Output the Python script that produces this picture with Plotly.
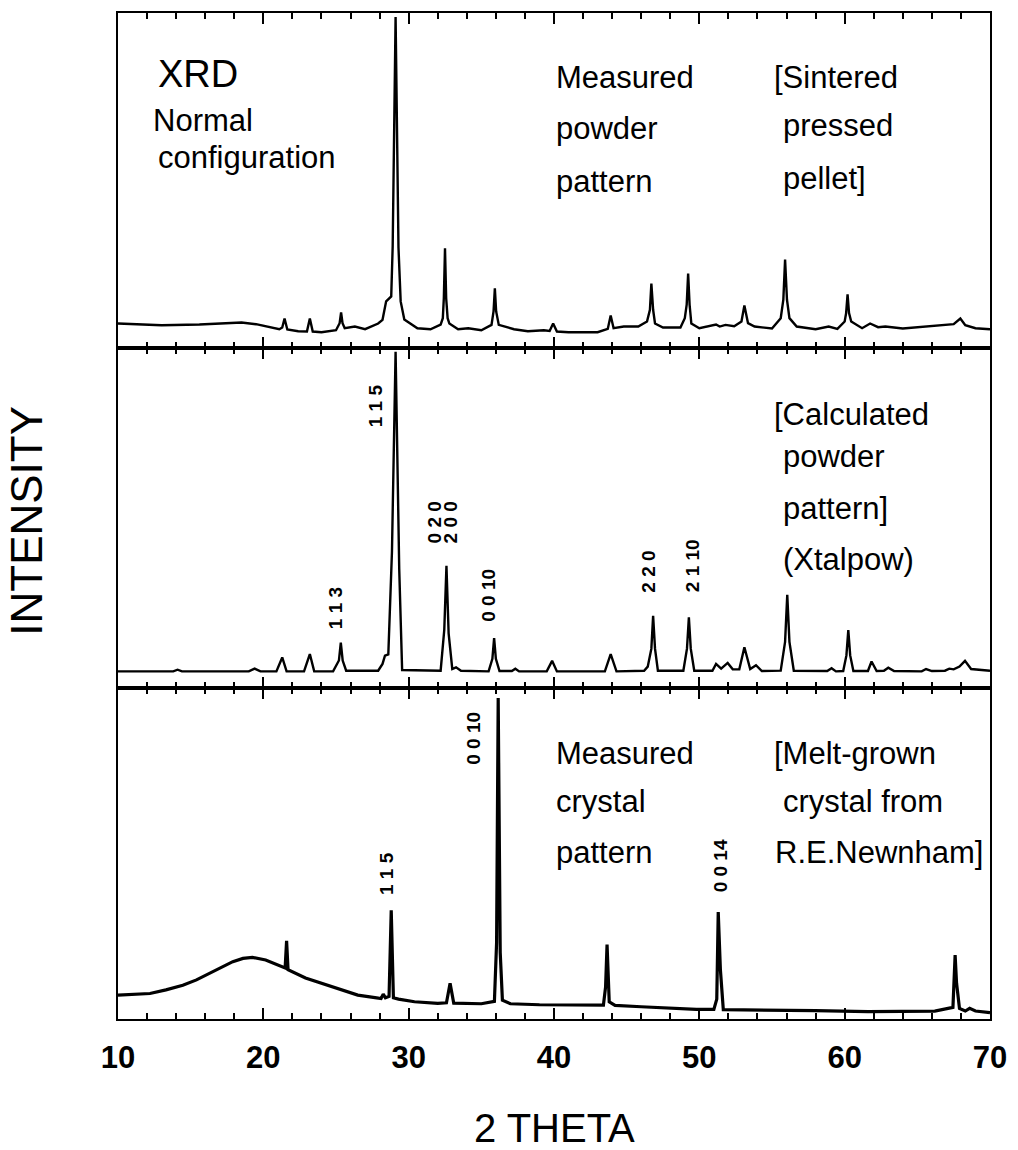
import plotly.graph_objects as go
from plotly.subplots import make_subplots

# ---------------- data ----------------
# x = 2 theta (deg), y = relative intensity (0 = panel bottom, 100 = panel top)
top_x = [10.0, 11.5, 13.0, 15.6, 17.0, 18.5, 19.5, 20.2, 21.1, 21.3, 21.46, 21.65, 22.4, 23.0, 23.2, 23.4,
         24.0, 25.0, 25.25, 25.35, 25.45, 25.6, 26.3, 27.0, 27.9, 28.2, 28.45, 28.8, 28.9, 29.1, 29.3, 29.45,
         29.7, 30.6, 31.5, 32.2, 32.35, 32.42, 32.5, 32.58, 32.68, 32.8, 33.4, 34.1, 35.0, 35.7, 35.84, 35.93,
         36.02, 36.2, 37.25, 38.2, 39.3, 39.7, 39.94, 40.2, 41.0, 43.0, 43.7, 43.9, 44.1, 44.8, 45.8, 46.4,
         46.6, 46.7, 46.82, 46.95, 47.5, 48.7, 49.0, 49.13, 49.23, 49.33, 49.45, 50.0, 51.15, 51.4, 51.8, 52.4,
         52.9, 53.1, 53.35, 53.8, 55.0, 55.6, 55.78, 55.9, 56.03, 56.2, 56.7, 58.0, 58.9, 59.5, 60.0, 60.1,
         60.2, 60.3, 60.45, 61.2, 61.75, 62.3, 62.8, 64.0, 65.4, 66.5, 67.5, 67.96, 68.3, 69.0, 70.0]
top_y = [7.4, 7.2, 6.9, 7.1, 7.4, 7.7, 7.2, 6.5, 5.7, 6.2, 8.9, 5.6, 5.1, 5.0, 8.9, 5.0,
         4.8, 5.4, 7.5, 10.7, 7.5, 6.0, 6.5, 5.7, 7.4, 8.5, 14.0, 15.5, 30.4, 98.8, 30.0, 14.0,
         8.6, 6.0, 5.7, 7.1, 9.0, 15.0, 29.8, 15.0, 9.0, 7.4, 5.7, 6.0, 5.4, 7.0, 11.0, 17.9,
         11.0, 7.0, 5.7, 5.1, 5.4, 5.2, 7.4, 5.0, 4.8, 4.8, 5.8, 9.8, 6.0, 6.5, 6.5, 8.0,
         11.5, 19.3, 11.5, 7.4, 6.2, 6.2, 9.0, 13.0, 22.3, 13.0, 7.4, 6.0, 7.1, 6.5, 7.0, 6.6,
         8.0, 12.8, 7.5, 6.5, 5.9, 9.0, 14.5, 26.5, 14.5, 9.0, 6.5, 5.7, 6.5, 5.8, 8.0, 10.5,
         16.1, 10.5, 8.0, 6.0, 7.4, 6.3, 6.5, 5.9, 6.5, 6.8, 7.2, 8.9, 6.9, 6.0, 5.7]

mid_x = [10.0, 13.8, 14.1, 14.4, 19.0, 19.4, 19.8, 20.9, 21.3, 21.6, 22.8, 23.2, 23.5, 24.8, 25.2, 25.33,
         25.46, 25.7, 27.9, 28.2, 28.37, 28.6, 28.85, 29.1, 29.35, 29.55, 32.2, 32.45, 32.6, 32.75, 33.0, 33.26,
         33.6, 35.5, 35.76, 35.88, 36.0, 36.25, 37.1, 37.34, 37.6, 39.5, 39.87, 40.2, 43.5, 43.9, 44.3, 46.2,
         46.45, 46.7, 46.82, 46.95, 47.15, 48.9, 49.15, 49.28, 49.41, 49.65, 50.9, 51.15, 51.5, 51.95, 52.3, 52.75,
         53.1, 53.5, 53.9, 54.3, 55.6, 55.9, 56.05, 56.2, 56.5, 58.8, 59.1, 59.4, 59.9, 60.12, 60.25, 60.38,
         60.6, 61.6, 61.85, 62.2, 62.7, 63.0, 63.4, 65.3, 65.6, 66.0, 66.9, 67.2, 67.5, 67.9, 68.28, 68.7,
         70.0]
mid_y = [4.8, 4.8, 5.3, 4.8, 4.8, 5.6, 4.8, 4.8, 8.9, 4.8, 4.8, 9.9, 4.8, 4.8, 8.0, 13.3,
         8.0, 5.0, 5.0, 7.0, 9.4, 9.8, 40.0, 99.0, 35.0, 5.2, 5.0, 17.0, 35.9, 16.0, 5.5, 6.0,
         5.0, 4.8, 8.5, 14.6, 8.5, 4.9, 4.9, 5.6, 4.8, 4.8, 7.9, 4.8, 4.8, 9.9, 4.8, 5.0,
         6.2, 11.5, 21.2, 11.5, 5.0, 5.0, 11.5, 20.7, 11.5, 5.0, 5.0, 7.0, 5.6, 7.3, 5.4, 5.4,
         11.9, 5.5, 6.6, 4.9, 5.0, 13.5, 27.4, 13.5, 5.0, 4.9, 5.7, 4.8, 4.9, 9.5, 17.0, 9.5,
         4.9, 4.9, 7.7, 4.9, 5.0, 5.9, 4.9, 4.8, 5.5, 4.9, 5.0, 5.6, 5.4, 6.2, 7.9, 5.5,
         5.0]

bot_x = [10.0, 11.0, 12.2, 13.3, 14.46, 15.4, 16.3, 17.1, 17.9, 18.6, 19.25, 20.16, 21.2, 21.5, 21.6, 21.7,
         22.9, 24.7, 26.5, 27.8, 28.1, 28.25, 28.4, 28.65, 28.8, 28.95, 29.3, 30.4, 32.0, 32.6, 32.85, 33.1,
         35.0, 35.9, 36.05, 36.16, 36.3, 36.45, 37.0, 39.0, 41.0, 43.4, 43.55, 43.65, 43.8, 44.2, 46.0, 49.8,
         51.0, 51.2, 51.3, 51.45, 51.65, 54.8, 58.0, 61.6, 66.2, 67.45, 67.6, 67.7, 67.9, 68.3, 68.6, 69.0,
         70.0]
bot_y = [7.2, 7.4, 7.7, 8.8, 10.2, 11.8, 13.8, 15.7, 17.3, 18.3, 18.6, 17.8, 15.8, 15.4, 23.6, 14.9,
         12.4, 9.7, 7.2, 6.4, 6.2, 7.5, 6.4, 6.8, 32.8, 6.4, 6.0, 5.2, 4.7, 4.9, 10.8, 4.8,
         4.6, 5.3, 23.0, 96.9, 20.0, 5.7, 4.6, 4.3, 4.2, 4.2, 9.7, 22.5, 5.2, 4.1, 3.7, 2.9,
         2.9, 6.0, 32.3, 14.8, 2.8, 2.7, 2.5, 2.2, 2.4, 3.5, 19.3, 10.8, 3.2, 2.4, 3.2, 2.4,
         1.9]

x_ticks = [10, 20, 30, 40, 50, 60, 70]

# ---------------- figure ----------------
W, H = 1018, 1150
L, R, T, B = 118, 21, 11, 131
plot_h = H - T - B
fig = make_subplots(rows=3, cols=1, shared_xaxes=False, vertical_spacing=0)

FONT = "Liberation Sans, Arial, Helvetica, sans-serif"
series = [(top_x, top_y, 1, 2.4), (mid_x, mid_y, 2, 2.4), (bot_x, bot_y, 3, 3.2)]
for xs, ys, row, lw in series:
    fig.add_trace(go.Scatter(x=xs, y=ys, mode="lines", line=dict(color="black", width=lw),
                             showlegend=False, hoverinfo="skip"), row=row, col=1)

# panel pixel bounds (top, bottom)
panels = [(11, 347), (347, 687), (687, 1019)]
for i, (pt, pb) in enumerate(panels):
    d0 = (H - B - pb) / plot_h
    d1 = (H - B - pt) / plot_h
    yname = "yaxis" if i == 0 else f"yaxis{i+1}"
    xname = "xaxis" if i == 0 else f"xaxis{i+1}"
    fig.layout[yname].update(domain=[d0, d1], range=[0, 100], showticklabels=False, ticks="",
                             showgrid=False, zeroline=False, showline=True, linecolor="black",
                             linewidth=2, mirror=True)
    fig.layout[xname].update(range=[10, 70], tickvals=x_ticks, ticks="inside", ticklen=11,
                             tickwidth=1.6, tickcolor="black", showgrid=False, zeroline=False,
                             showline=True, linecolor="black", linewidth=2.2, mirror="allticks",
                             minor=dict(dtick=2, tick0=10, ticks="inside", ticklen=6,
                                        tickwidth=1.6, tickcolor="black", showgrid=False),
                             showticklabels=(i == 2),
                             tickfont=dict(family=FONT, size=31, color="black", weight="bold"),
                             ticklabelstandoff=10)

def txt(s, x, y, ref, size=31, anchor="left", weight="normal", angle=0):
    fig.add_annotation(text=s, x=x, y=y, xref=f"x{ref}" if ref > 1 else "x",
                       yref=f"y{ref}" if ref > 1 else "y", showarrow=False,
                       xanchor=anchor, yanchor="middle", textangle=angle,
                       font=dict(family=FONT, size=size, color="black", weight=weight))

# top panel texts
txt("XRD", 12.6, 81.8, 1, size=38)
txt("Normal", 12.3, 67.9, 1, size=31)
txt("configuration", 12.6, 56.8, 1, size=31)
txt("Measured", 40.0, 80.7, 1)
txt("powder", 40.0, 65.5, 1)
txt("pattern", 40.0, 49.7, 1)
txt("[Sintered", 55.0, 80.7, 1)
txt("pressed", 55.6, 66.4, 1)
txt("pellet]", 55.6, 50.6, 1)

# middle panel texts
txt("[Calculated", 55.0, 80.6, 2)
txt("powder", 55.6, 68.2, 2)
txt("pattern]", 55.6, 52.9, 2)
txt("(Xtalpow)", 55.6, 37.9, 2)

hkl_mid = [("1 1 5", 27.68, 83.2), ("0 2 0", 31.77, 48.8), ("2 0 0", 32.87, 48.8),
           ("1 1 3", 25.02, 23.5), ("0 0 10", 35.53, 27.1), ("2 2 0", 46.52, 34.1),
           ("2 1 10", 49.52, 35.9)]
for s, x, y in hkl_mid:
    txt(s, x, y, 2, size=19, anchor="center", weight="bold", angle=-90)

# bottom panel texts
txt("Measured", 40.0, 80.1, 3)
txt("crystal", 40.0, 65.7, 3)
txt("pattern", 40.0, 50.3, 3)
txt("[Melt-grown", 55.0, 80.1, 3)
txt("crystal from", 55.6, 65.7, 3)
txt("R.E.Newnham]", 55.1, 50.3, 3)

hkl_bot = [("0 0 10", 34.5, 84.6), ("1 1 5", 28.43, 44.0), ("0 0 14", 51.43, 46.1)]
for s, x, y in hkl_bot:
    txt(s, x, y, 3, size=19, anchor="center", weight="bold", angle=-90)

# axis titles
fig.add_annotation(text="2 THETA", xref="paper", yref="paper", x=0.5, y=(H - B - 1128) / plot_h,
                   showarrow=False, xanchor="center", yanchor="middle",
                   font=dict(family=FONT, size=40, color="black"))
fig.add_annotation(text="INTENSITY", xref="paper", yref="paper", x=(26 - L) / (W - L - R),
                   y=(H - B - 520) / plot_h, showarrow=False, xanchor="center", yanchor="middle",
                   textangle=-90, font=dict(family=FONT, size=44, color="black"))

fig.update_layout(width=W, height=H, margin=dict(l=L, r=R, t=T, b=B),
                  paper_bgcolor="white", plot_bgcolor="white", showlegend=False)

fig.write_html("out.html")
